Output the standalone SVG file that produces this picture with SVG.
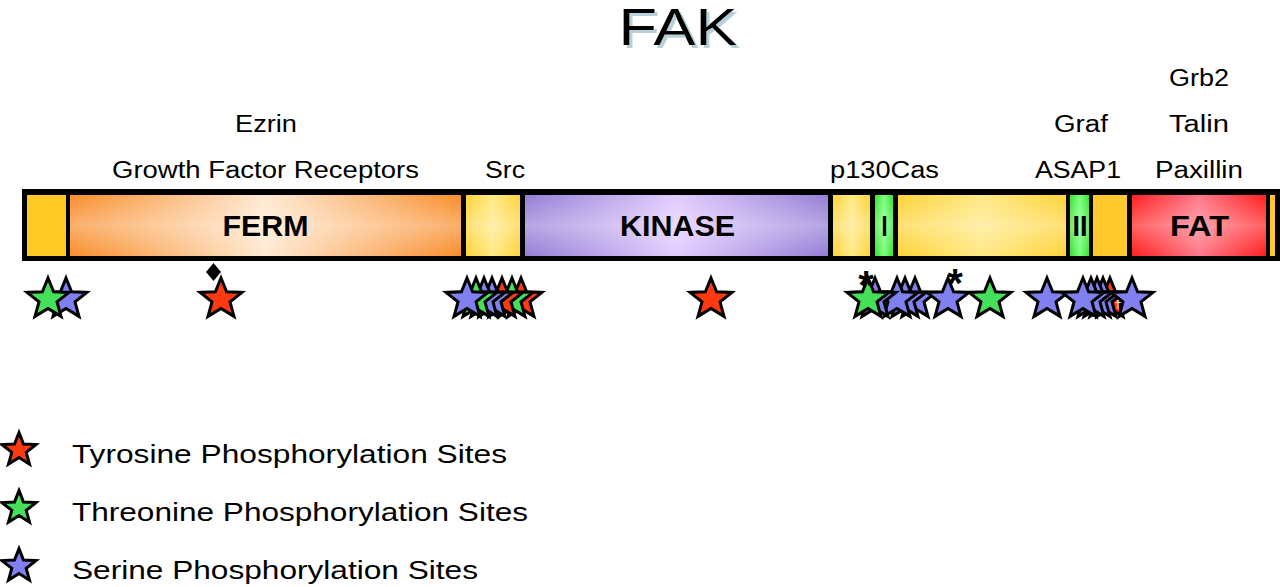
<svg xmlns="http://www.w3.org/2000/svg" xmlns:xlink="http://www.w3.org/1999/xlink" width="1280" height="587" viewBox="0 0 1280 587">
  <defs>
    <style>
      .lbl { font-family: "Liberation Sans", Arial, sans-serif; font-size: 23px; fill: #000; text-anchor: middle; }
      .dom { font-family: "Liberation Sans", Arial, sans-serif; font-weight: bold; font-size: 29px; fill: #000; text-anchor: middle; }
      .leg { font-family: "Liberation Sans", Arial, sans-serif; font-size: 26px; fill: #000; }
      .ttl { font-family: "Liberation Sans", Arial, sans-serif; font-size: 52px; fill: #000; }
      .mark { font-family: "Liberation Sans", Arial, sans-serif; font-weight: bold; font-size: 40px; fill: #000; text-anchor: middle; }
      .gloss { fill: url(#gGloss); }
      .tyr { fill: #FF3A10; }
      .thr { fill: #44E05A; }
      .ser { fill: #8080F0; }
      .st { stroke: #000; stroke-width: 3; stroke-linejoin: miter; }
    </style>
    <!-- five-pointed stars, centred on the origin -->
    <path id="star" d="M0,-21 L5.6,-7.3 L21,-6.6 L9,2.9 L13,17.4 L0,9.4 L-13,17.4 L-9,2.9 L-21,-6.6 L-5.6,-7.3 Z"/>
    <path id="starS" d="M0,-17.5 L4.5,-6 L17,-5.4 L7.2,2.4 L10.5,14.2 L0,7.5 L-10.5,14.2 L-7.2,2.4 L-17,-5.4 L-4.5,-6 Z"/>
    <!-- soft shadow behind the title -->
    <filter id="titleShadow" x="-10%" y="-10%" width="130%" height="130%">
      <feOffset in="SourceAlpha" dx="3" dy="3" result="off"/>
      <feFlood flood-color="#B8D0D8"/>
      <feComposite in2="off" operator="in" result="shadow"/>
      <feMerge>
        <feMergeNode in="shadow"/>
        <feMergeNode in="SourceGraphic"/>
      </feMerge>
    </filter>
    <!-- horizontal domain shading -->
    <linearGradient id="gFerm" x1="0" y1="0" x2="1" y2="0">
      <stop offset="0" stop-color="#F98E2C"/>
      <stop offset="0.5" stop-color="#FFE9D2"/>
      <stop offset="1" stop-color="#F98E2C"/>
    </linearGradient>
    <linearGradient id="gKin" x1="0" y1="0" x2="1" y2="0">
      <stop offset="0" stop-color="#957ED6"/>
      <stop offset="0.5" stop-color="#E2CCFF"/>
      <stop offset="1" stop-color="#957ED6"/>
    </linearGradient>
    <linearGradient id="gFat" x1="0" y1="0" x2="1" y2="0">
      <stop offset="0" stop-color="#FF1E1E"/>
      <stop offset="0.5" stop-color="#FF7A8A"/>
      <stop offset="1" stop-color="#FF1E1E"/>
    </linearGradient>
    <linearGradient id="gYel" x1="0" y1="0" x2="1" y2="0">
      <stop offset="0" stop-color="#FFD33A"/>
      <stop offset="0.5" stop-color="#FFE985"/>
      <stop offset="1" stop-color="#FFD33A"/>
    </linearGradient>
    <linearGradient id="gGrn" x1="0" y1="0" x2="1" y2="0">
      <stop offset="0" stop-color="#33E233"/>
      <stop offset="0.5" stop-color="#7CFF7C"/>
      <stop offset="1" stop-color="#33E233"/>
    </linearGradient>
    <!-- vertical highlight laid over each domain -->
    <linearGradient id="gGloss" x1="0" y1="0" x2="0" y2="1">
      <stop offset="0" stop-color="#fff" stop-opacity="0"/>
      <stop offset="0.5" stop-color="#fff" stop-opacity="0.3"/>
      <stop offset="1" stop-color="#fff" stop-opacity="0"/>
    </linearGradient>
  </defs>

  <rect width="1280" height="587" fill="#fff"/>

  <!-- title -->
  <g id="title">
    <text class="ttl" x="678" y="45" text-anchor="middle" textLength="119" lengthAdjust="spacingAndGlyphs" filter="url(#titleShadow)">FAK</text>
  </g>

  <!-- binding partners above the bar -->
  <g id="partners">
    <text class="lbl" x="1199" y="86" textLength="60" lengthAdjust="spacingAndGlyphs">Grb2</text>
    <text class="lbl" x="266" y="132" textLength="62" lengthAdjust="spacingAndGlyphs">Ezrin</text>
    <text class="lbl" x="1081" y="132" textLength="54" lengthAdjust="spacingAndGlyphs">Graf</text>
    <text class="lbl" x="1199" y="132" textLength="60" lengthAdjust="spacingAndGlyphs">Talin</text>
    <text class="lbl" x="265.5" y="178" textLength="307" lengthAdjust="spacingAndGlyphs">Growth Factor Receptors</text>
    <text class="lbl" x="505" y="178" textLength="40" lengthAdjust="spacingAndGlyphs">Src</text>
    <text class="lbl" x="884.5" y="178" textLength="109" lengthAdjust="spacingAndGlyphs">p130Cas</text>
    <text class="lbl" x="1078" y="178" textLength="86" lengthAdjust="spacingAndGlyphs">ASAP1</text>
    <text class="lbl" x="1199" y="178" textLength="88" lengthAdjust="spacingAndGlyphs">Paxillin</text>
  </g>

  <!-- domain bar -->
  <g id="bar">
    <rect x="22" y="189" width="1258" height="72" fill="#000"/>
    <g id="nterm">
      <rect x="27" y="195" width="39" height="61" fill="#FFCA26"/>
    </g>
    <g id="ferm">
      <rect x="70" y="195" width="391" height="61" fill="url(#gFerm)"/>
      <rect class="gloss" x="70" y="195" width="391" height="61"/>
      <text class="dom" x="265.5" y="236" textLength="86" lengthAdjust="spacingAndGlyphs">FERM</text>
    </g>
    <g id="linker1">
      <rect x="466" y="195" width="54" height="61" fill="url(#gYel)"/>
      <rect class="gloss" x="466" y="195" width="54" height="61"/>
    </g>
    <g id="kinase">
      <rect x="525" y="195" width="303" height="61" fill="url(#gKin)"/>
      <rect class="gloss" x="525" y="195" width="303" height="61"/>
      <text class="dom" x="677.5" y="236" textLength="115" lengthAdjust="spacingAndGlyphs">KINASE</text>
    </g>
    <g id="linker2">
      <rect x="833" y="195" width="37" height="61" fill="url(#gYel)"/>
      <rect class="gloss" x="833" y="195" width="37" height="61"/>
    </g>
    <g id="pr1">
      <rect x="875" y="195" width="18" height="61" fill="url(#gGrn)"/>
      <rect class="gloss" x="875" y="195" width="18" height="61"/>
      <text class="dom" x="884.5" y="236" textLength="6" lengthAdjust="spacingAndGlyphs">I</text>
    </g>
    <g id="linker3">
      <rect x="898" y="195" width="168" height="61" fill="url(#gYel)"/>
      <rect class="gloss" x="898" y="195" width="168" height="61"/>
    </g>
    <g id="pr2">
      <rect x="1070" y="195" width="19" height="61" fill="url(#gGrn)"/>
      <rect class="gloss" x="1070" y="195" width="19" height="61"/>
      <text class="dom" x="1080" y="236" textLength="15" lengthAdjust="spacingAndGlyphs">II</text>
    </g>
    <g id="linker4">
      <rect x="1093" y="195" width="34" height="61" fill="#FFC82C"/>
    </g>
    <g id="fat">
      <rect x="1132" y="195" width="134" height="61" fill="url(#gFat)"/>
      <rect class="gloss" x="1132" y="195" width="134" height="61"/>
      <text class="dom" x="1199.5" y="236" textLength="59" lengthAdjust="spacingAndGlyphs">FAT</text>
    </g>
    <g id="cterm">
      <rect x="1270" y="195" width="5" height="61" fill="#FFC82C"/>
    </g>
  </g>

  <!-- phosphorylation sites (left-most star of a cluster drawn last) -->
  <g id="sites">
    <g id="site-nterm">
      <use xlink:href="#star" class="ser st" x="66" y="299"/>
      <use xlink:href="#star" class="thr st" x="48" y="299"/>
    </g>
    <g id="site-ferm">
      <use xlink:href="#star" class="tyr st" x="221" y="299"/>
      <polygon points="213.5,263 221,272 213.5,281 206,272" fill="#000"/>
    </g>
    <g id="site-src">
      <use xlink:href="#star" class="tyr st" x="521" y="299"/>
      <use xlink:href="#star" class="thr st" x="512" y="299"/>
      <use xlink:href="#star" class="tyr st" x="502" y="299"/>
      <use xlink:href="#star" class="ser st" x="492" y="299"/>
      <use xlink:href="#star" class="ser st" x="484" y="299"/>
      <use xlink:href="#star" class="thr st" x="476" y="299"/>
      <use xlink:href="#star" class="ser st" x="467" y="299"/>
    </g>
    <g id="site-kinase">
      <use xlink:href="#star" class="tyr st" x="711" y="299"/>
    </g>
    <g id="site-p130">
      <use xlink:href="#star" class="ser st" x="915" y="299"/>
      <use xlink:href="#star" class="ser st" x="905" y="299"/>
      <use xlink:href="#star" class="ser st" x="897" y="299"/>
      <use xlink:href="#star" class="ser st" x="875" y="299"/>
      <use xlink:href="#star" class="thr st" x="868" y="299"/>
      <use xlink:href="#star" class="ser st" x="948" y="299"/>
      <use xlink:href="#star" class="thr st" x="990" y="299"/>
      <text class="mark" x="866" y="299">*</text>
      <text class="mark" x="955" y="297">*</text>
    </g>
    <g id="site-fat">
      <use xlink:href="#star" class="ser st" x="1047" y="299"/>
      <use xlink:href="#star" class="tyr st" x="1110" y="299"/>
      <use xlink:href="#star" class="ser st" x="1103" y="299"/>
      <use xlink:href="#star" class="ser st" x="1097" y="299"/>
      <use xlink:href="#star" class="ser st" x="1091" y="299"/>
      <use xlink:href="#star" class="ser st" x="1083" y="299"/>
      <use xlink:href="#star" class="ser st" x="1132" y="299"/>
      <text x="1118" y="308" font-family="Liberation Sans, Arial, sans-serif" font-weight="bold" font-size="11" fill="#fff" text-anchor="middle">†</text>
    </g>
  </g>

  <!-- legend -->
  <g id="legend">
    <g id="leg-tyr">
      <use xlink:href="#starS" class="tyr st" x="19" y="450"/>
      <text class="leg" x="72" y="463" textLength="435" lengthAdjust="spacingAndGlyphs">Tyrosine Phosphorylation Sites</text>
    </g>
    <g id="leg-thr">
      <use xlink:href="#starS" class="thr st" x="19" y="508"/>
      <text class="leg" x="72" y="521" textLength="456" lengthAdjust="spacingAndGlyphs">Threonine Phosphorylation Sites</text>
    </g>
    <g id="leg-ser">
      <use xlink:href="#starS" class="ser st" x="19" y="566"/>
      <text class="leg" x="72" y="579" textLength="406" lengthAdjust="spacingAndGlyphs">Serine Phosphorylation Sites</text>
    </g>
  </g>
</svg>
